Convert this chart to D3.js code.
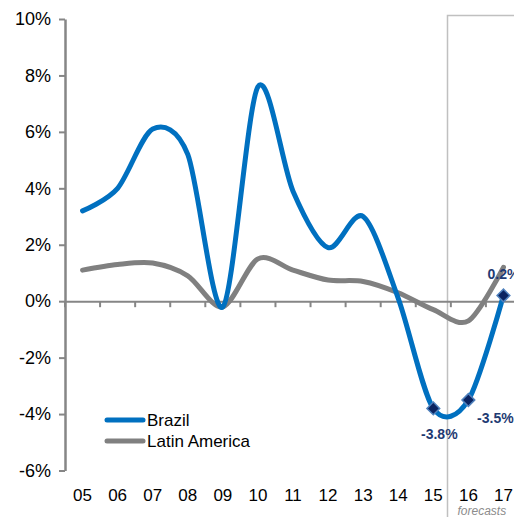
<!DOCTYPE html>
<html>
<head>
<meta charset="utf-8">
<script src="https://cdn.jsdelivr.net/npm/d3@7"></script>
<style>
  body { margin: 0; background: #fff; }
  text { font-family: "Liberation Sans", Arial, sans-serif; }
</style>
</head>
<body>
<div id="chart"></div>
<script>
// Data
var years = ['05', '06', '07', '08', '09', '10', '11', '12', '13', '14', '15', '16', '17'];
var brazil = [3.2, 4.0, 6.1, 5.2, -0.2, 7.6, 3.9, 1.9, 3.0, 0.1, -3.8, -3.5, 0.2];
var latam = [1.1, 1.3, 1.35, 0.9, -0.2, 1.5, 1.1, 0.75, 0.7, 0.3, -0.3, -0.7, 1.2];
var yTicks = [10, 8, 6, 4, 2, 0, -2, -4, -6];
var labelled = ['15', '16', '17'];
var forecastStart = '15';

var W = 514, H = 517;
var margin = {left: 65, top: 19};
var plotH = 451.5, plotW = 456;

var svg = d3.select('#chart').append('svg')
    .attr('width', W).attr('height', H);

var x = d3.scaleBand().domain(years).range([margin.left, margin.left + plotW]);
var y = d3.scaleLinear().domain([-6, 10]).range([margin.top + plotH, margin.top]);

// forecast box
var fx = Math.round(x(forecastStart) + x.bandwidth() - 4) + 0.5;
svg.append('path')
    .attr('d', 'M' + fx + ',' + (H + 5) + 'V15.5H' + (W + 5))
    .attr('fill', 'none')
    .attr('stroke', '#c0c0c0')
    .attr('stroke-width', 1.5);

svg.append('text')
    .attr('x', fx + 10)
    .attr('y', 515)
    .attr('font-size', 12)
    .attr('font-style', 'italic')
    .attr('fill', '#8c8c8c')
    .text('forecasts');

// y axis
var yAxis = d3.axisLeft(y).tickValues(yTicks).tickSize(6).tickSizeOuter(0)
    .tickFormat(function(d) { return d + '%'; });
var gy = svg.append('g')
    .attr('transform', 'translate(' + margin.left + ',0)')
    .call(yAxis);
gy.select('.domain').attr('stroke', '#868686').attr('stroke-width', 2.5);
gy.selectAll('.tick line').attr('stroke', '#868686').attr('stroke-width', 2);
gy.selectAll('.tick text')
    .attr('x', -14)
    .attr('font-size', 18)
    .attr('fill', '#000');

// zero line with ticks at category boundaries
var zx = d3.axisBottom(x).tickSize(6).tickFormat('').tickSizeOuter(0);
var gz = svg.append('g')
    .attr('transform', 'translate(0,' + y(0) + ')')
    .call(zx);
gz.select('.domain').attr('stroke', '#868686').attr('stroke-width', 2);
gz.selectAll('.tick line')
    .attr('transform', 'translate(' + (-x.bandwidth() / 2) + ',0)')
    .attr('stroke', '#868686').attr('stroke-width', 2);

// x labels
svg.append('g').selectAll('text')
    .data(years)
    .enter().append('text')
    .attr('x', function(d) { return x(d) + x.bandwidth() / 2; })
    .attr('y', 501)
    .attr('text-anchor', 'middle')
    .attr('font-size', 17)
    .attr('fill', '#000')
    .text(function(d) { return d; });

var line = d3.line()
    .x(function(d, i) { return x(years[i]) + x.bandwidth() / 2; })
    .y(function(d) { return y(d); })
    .curve(d3.curveCardinal.tension(0.1));

svg.append('path')
    .datum(latam)
    .attr('d', line)
    .attr('fill', 'none')
    .attr('stroke', '#808080')
    .attr('stroke-width', 5)
    .attr('stroke-linecap', 'round');

svg.append('path')
    .datum(brazil)
    .attr('d', line)
    .attr('fill', 'none')
    .attr('stroke', '#0070c0')
    .attr('stroke-width', 5)
    .attr('stroke-linecap', 'round');

// markers and labels
var pts = years.map(function(d, i) { return {year: d, value: brazil[i]}; })
    .filter(function(d) { return labelled.indexOf(d.year) >= 0; });

svg.selectAll('.marker')
    .data(pts)
    .enter().append('rect')
    .attr('class', 'marker')
    .attr('x', -4.5).attr('y', -4.5)
    .attr('width', 9).attr('height', 9)
    .attr('transform', function(d) {
        return 'translate(' + (x(d.year) + x.bandwidth() / 2) + ',' + y(d.value) + ') rotate(45)';
    })
    .attr('fill', '#0b2461')
    .attr('stroke', '#4f81bd')
    .attr('stroke-width', 1.5);

var labelOffsets = {'15': [6, 31], '16': [27, 23], '17': [0, -17]};
svg.selectAll('.vlabel')
    .data(pts)
    .enter().append('text')
    .attr('class', 'vlabel')
    .attr('x', function(d) { return x(d.year) + x.bandwidth() / 2 + labelOffsets[d.year][0]; })
    .attr('y', function(d) { return y(d.value) + labelOffsets[d.year][1]; })
    .attr('text-anchor', 'middle')
    .attr('font-size', 14)
    .attr('font-weight', 'bold')
    .attr('fill', '#1f3b73')
    .text(function(d) { return d.value.toFixed(1) + '%'; });

// legend
var legendItems = [{name: 'Brazil', color: '#0070c0'}, {name: 'Latin America', color: '#808080'}];
var legend = svg.append('g').selectAll('g')
    .data(legendItems)
    .enter().append('g')
    .attr('transform', function(d, i) { return 'translate(107,' + (420 + i * 21) + ')'; });
legend.append('line')
    .attr('x1', 0).attr('x2', 36)
    .attr('stroke', function(d) { return d.color; })
    .attr('stroke-width', 5)
    .attr('stroke-linecap', 'round');
legend.append('text')
    .attr('x', 40)
    .attr('y', 6)
    .attr('font-size', 17)
    .attr('fill', '#000')
    .text(function(d) { return d.name; });
</script>
</body>
</html>
